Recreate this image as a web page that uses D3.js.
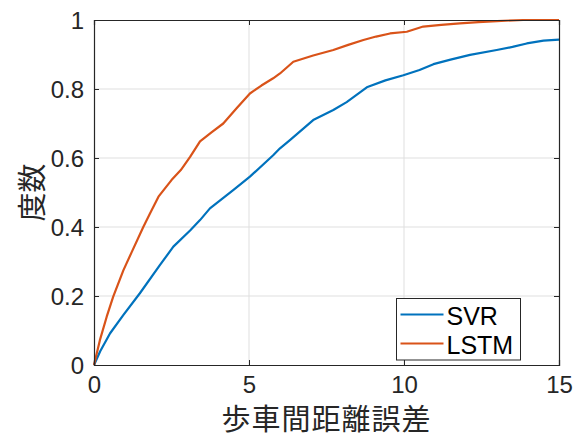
<!DOCTYPE html>
<html><head><meta charset="utf-8">
<script src="https://cdn.jsdelivr.net/npm/d3@7"></script>
<style>body{margin:0;background:#fff}svg{display:block}</style>
</head><body>
<svg id="c" width="583" height="439"></svg>
<script>
const seriesNames = ["SVR", "LSTM"];
const seriesColors = ["#0072BD", "#D95319"];
const svrX = [0, 0.2, 0.52, 0.95, 1.48, 2.13, 2.56, 3.1, 3.42, 3.74, 4.49, 5.03, 5.78, 6.0, 6.32, 7.07, 7.72, 8.15, 8.58, 8.8, 9.4, 9.98, 10.5, 10.95, 11.5, 12.13, 12.99, 13.5, 13.96, 14.5, 15];
const svrY = [0, 0.04, 0.092, 0.145, 0.208, 0.29, 0.343, 0.39, 0.42, 0.454, 0.507, 0.546, 0.608, 0.628, 0.652, 0.71, 0.739, 0.762, 0.79, 0.805, 0.825, 0.84, 0.855, 0.872, 0.885, 0.899, 0.913, 0.922, 0.932, 0.94, 0.943];
const lstmX = [0, 0.19, 0.41, 0.62, 0.95, 1.22, 1.59, 1.81, 2.08, 2.5, 2.8, 3.1, 3.42, 3.8, 4.17, 4.6, 5.03, 5.4, 5.78, 6.0, 6.43, 7.07, 7.72, 8.2, 8.69, 9.1, 9.55, 10.09, 10.62, 11.2, 11.8, 12.4, 13.0, 13.84, 15];
const lstmY = [0, 0.072, 0.14, 0.198, 0.275, 0.328, 0.40, 0.44, 0.488, 0.536, 0.565, 0.603, 0.648, 0.675, 0.70, 0.744, 0.787, 0.81, 0.831, 0.845, 0.879, 0.897, 0.913, 0.928, 0.942, 0.952, 0.961, 0.966, 0.981, 0.986, 0.99, 0.994, 0.997, 1.0, 1.0];
const xTicks = [0, 5, 10, 15];
const yTicks = [0, 0.2, 0.4, 0.6, 0.8, 1];
const yTickLabels = ["0", "0.2", "0.4", "0.6", "0.8", "1"];
const xLabel = "歩車間距離誤差";
const yLabel = "度数";

const svg = d3.select("#c");
const L = 94, R = 559, T = 20, B = 365;
const x = d3.scaleLinear().domain([0, 15]).range([L, R]);
const y = d3.scaleLinear().domain([0, 1]).range([B, T]);
const axisCol = "#262626";
const font = "'Liberation Sans', Arial, sans-serif";

// grid
const g = svg.append("g");
g.selectAll(".gx").data(xTicks.slice(1, -1)).join("line")
  .attr("x1", d => x(d)).attr("x2", d => x(d)).attr("y1", T).attr("y2", B)
  .attr("stroke", "#dfdfdf").attr("stroke-width", 1);
g.selectAll(".gy").data(yTicks.slice(1, -1)).join("line")
  .attr("y1", d => y(d)).attr("y2", d => y(d)).attr("x1", L).attr("x2", R)
  .attr("stroke", "#dfdfdf").attr("stroke-width", 1);

// lines
const series = [
  svrX.map((v, i) => [v, svrY[i]]),
  lstmX.map((v, i) => [v, lstmY[i]])
];
const line = d3.line().x(d => x(d[0])).y(d => y(d[1]));
series.forEach((s, i) => {
  svg.append("path").attr("d", line(s)).attr("fill", "none")
    .attr("stroke", seriesColors[i]).attr("stroke-width", 2.2).attr("stroke-linejoin", "round");
});

// axes
const tl = 5;
const xa = d3.axisBottom(x).tickValues(xTicks).tickSize(-tl).tickPadding(11).tickFormat(d3.format("d"));
const xg = svg.append("g").attr("transform", `translate(0,${B})`).call(xa);
const xt = svg.append("g").attr("transform", `translate(0,${T})`).call(d3.axisTop(x).tickValues(xTicks).tickSize(-tl).tickFormat(""));
const ya = d3.axisLeft(y).tickValues(yTicks).tickSize(-tl).tickPadding(10).tickFormat((d, i) => yTickLabels[i]);
const yg = svg.append("g").attr("transform", `translate(${L},0)`).call(ya);
const yr = svg.append("g").attr("transform", `translate(${R},0)`).call(d3.axisRight(y).tickValues(yTicks).tickSize(-tl).tickFormat(""));
[xg, xt, yg, yr].forEach(a => {
  a.select(".domain").attr("stroke", axisCol).attr("stroke-width", 1.2);
  a.selectAll(".tick line").attr("stroke", axisCol);
  a.selectAll("text").attr("fill", "#262626").style("font-family", font).style("font-size", "24px");
});
xg.selectAll("text").attr("dy", "0.71em");
yg.selectAll("text").attr("dy", "0.35em");

// axis labels
svg.append("text").attr("x", (L + R) / 2).attr("y", 430).attr("text-anchor", "middle")
  .style("font-family", "'Noto Sans CJK JP', sans-serif").style("font-size", "29px")
  .style("letter-spacing", "1px").attr("fill", "#262626")
  .text(xLabel);
svg.append("text").attr("transform", `translate(43,${(T + B) / 2}) rotate(-90)`).attr("text-anchor", "middle")
  .style("font-family", "'Noto Sans CJK JP', sans-serif").style("font-size", "29px").attr("fill", "#262626")
  .text(yLabel);

// legend
const lg = svg.append("g").attr("transform", "translate(396.5,298.5)");
lg.append("rect").attr("width", 124).attr("height", 61.5).attr("fill", "#fff").attr("stroke", axisCol).attr("stroke-width", 1);
seriesNames.forEach((n, i) => {
  const cy = 16 + i * 29;
  lg.append("line").attr("x1", 4).attr("x2", 47).attr("y1", cy).attr("y2", cy)
    .attr("stroke", seriesColors[i]).attr("stroke-width", 2.2);
  lg.append("text").attr("x", 50).attr("y", cy + 1.5).attr("dy", "0.36em")
    .style("font-family", font).style("font-size", "25px").attr("fill", "#000").text(n);
});
</script>
</body></html>
